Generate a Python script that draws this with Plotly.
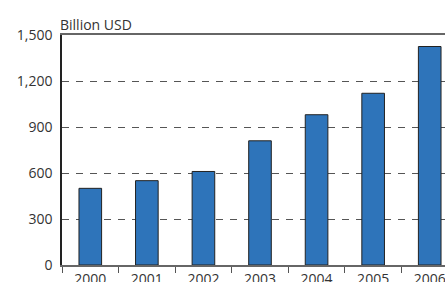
import plotly.graph_objects as go

years = ["2000", "2001", "2002", "2003", "2004", "2005", "2006"]
values = [500, 550, 610, 810, 980, 1120, 1425]
y_ticks = [0, 300, 600, 900, 1200, 1500]
y_title = "Billion USD"

W, H = 445, 282
ml, mt, mb = 62, 35, 282 - 265
# the last category runs past the right edge of the window in the reference
visible_frac = (W - ml) / (458 - ml)
x_max = -0.5 + 7 * visible_frac

fig = go.Figure(go.Bar(
    x=years, y=values, width=0.4,
    marker=dict(color="#2E74BA", line=dict(color="#222222", width=1)),
))

font = dict(family="Open Sans, Noto Sans, sans-serif", size=14, color="#333333")

fig.update_layout(
    width=W, height=H,
    margin=dict(l=ml, r=0, t=mt, b=mb, pad=0, autoexpand=False),
    paper_bgcolor="white", plot_bgcolor="white",
    font=font, showlegend=False,
)
fig.update_xaxes(
    type="category", range=[-0.5, x_max], automargin=False,
    showline=True, linecolor="#666666", linewidth=1.5, mirror=True,
    ticks="outside", ticklen=6, tickcolor="#555555", tickwidth=1.2,
    tickson="boundaries", showgrid=False,
    tickfont=font,
)
fig.update_yaxes(
    range=[0, 1500], tickvals=y_ticks, tickformat=",", automargin=False,
    showline=True, linecolor="#222222", linewidth=1.5,
    showgrid=True, gridcolor="#555555", gridwidth=1.2, griddash="7px,7px",
    zeroline=False, ticks="", ticklabelstandoff=5,
    tickfont=font,
)
fig.add_annotation(
    text=y_title, xref="paper", yref="paper", x=0, y=1,
    xanchor="left", yanchor="bottom", xshift=-4, yshift=-1,
    showarrow=False, font=font,
)
fig.write_html(
    "out.html",
    config={"displayModeBar": False},
    post_script=(
        "document.body.style.margin='0';"
        "document.body.style.overflow='hidden';"
        "document.documentElement.style.overflow='hidden';"
    ),
)
